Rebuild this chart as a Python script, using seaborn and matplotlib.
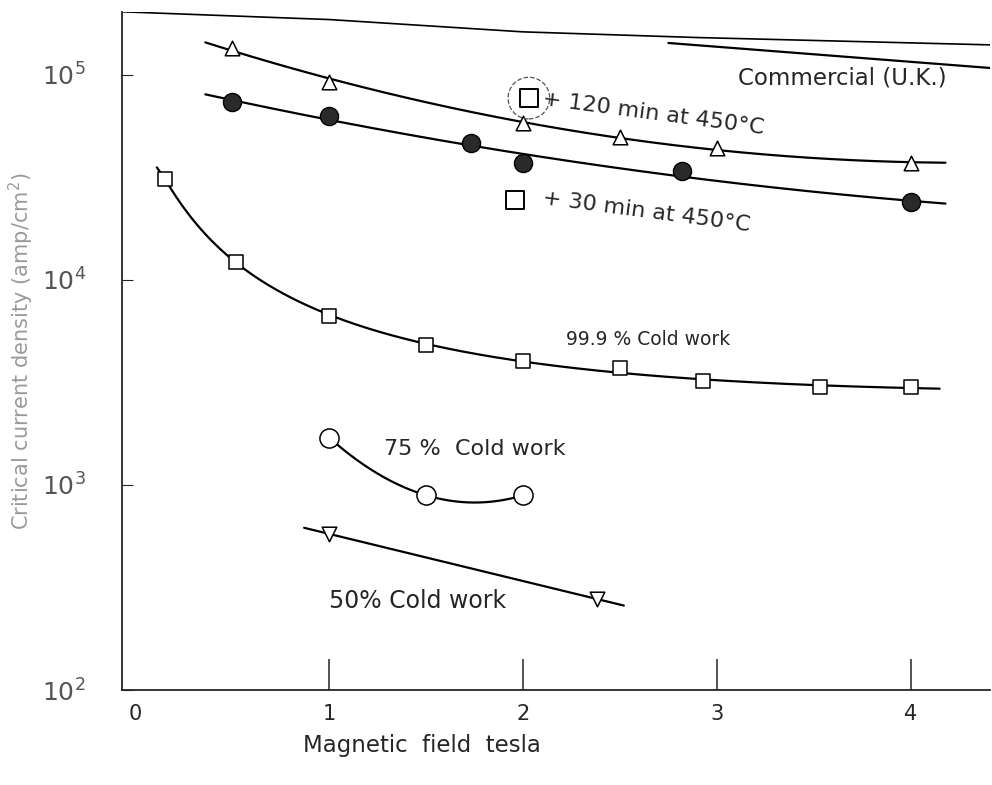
import numpy as np
import matplotlib
matplotlib.use("Agg")
import matplotlib.pyplot as plt
import seaborn as sns

# +120 min at 450C (open triangles)
b120_x = [0.5, 1.0, 2.0, 2.5, 3.0, 4.0]
b120_y = [1.35e5, 9.2e4, 5.8e4, 5.0e4, 4.4e4, 3.7e4]
# +30 min at 450C (filled circles)
b30_x = [0.5, 1.0, 1.73, 2.0, 2.82, 4.0]
b30_y = [7.4e4, 6.3e4, 4.65e4, 3.7e4, 3.4e4, 2.4e4]
# 99.9 % cold work (open squares)
cw999_x = [0.15, 0.52, 1.0, 1.5, 2.0, 2.5, 2.93, 3.53, 4.0]
cw999_y = [3.1e4, 1.22e4, 6.7e3, 4.8e3, 4.0e3, 3.7e3, 3.2e3, 3.0e3, 3.0e3]
# 75 % cold work (open circles)
cw75_x = [1.0, 1.5, 2.0]
cw75_y = [1.7e3, 890, 890]
# 50 % cold work (open inverted triangles)
cw50_x = [1.0, 2.38]
cw50_y = [577, 278]
# Commercial (U.K.) lines
comm_x = [2.75, 4.41]
comm_y = [1.43e5, 1.08e5]
top_x = [-0.07, 1.0, 2.0, 2.9, 4.41]
top_y = [2.03e5, 1.86e5, 1.62e5, 1.52e5, 1.40e5]

sns.set_style("ticks")
plt.rcParams["font.family"] = ["DejaVu Sans"]

fig = plt.figure(figsize=(9.92, 7.85), dpi=100)
ax = fig.add_axes([0.123, 0.121, 0.875, 0.864])


def trend(xs, ys, deg, x0, x1, logx=False):
    # smooth curve through the points in log-y space
    xs = np.asarray(xs, float)
    u = np.log10(xs) if logx else xs
    p = np.polyfit(u, np.log10(ys), deg)
    xx = np.linspace(x0, x1, 200)
    uu = np.log10(xx) if logx else xx
    return xx, 10 ** np.polyval(p, uu)


curves = [
    (b120_x, b120_y, 2, 0.36, 4.18, False),
    (b30_x, b30_y, 2, 0.36, 4.18, False),
    (cw999_x, cw999_y, 3, 0.11, 4.15, True),
    (cw75_x, cw75_y, 2, 1.0, 2.0, False),
    (cw50_x, cw50_y, 1, 0.87, 2.52, False),
]
for xs, ys, deg, a, b, lg in curves:
    xx, yy = trend(xs, ys, deg, a, b, lg)
    sns.lineplot(x=xx, y=yy, ax=ax, color="black", lw=1.6)

sns.lineplot(x=comm_x, y=comm_y, ax=ax, color="black", lw=1.6)
sns.lineplot(x=top_x, y=top_y, ax=ax, color="black", lw=1.2)

sns.scatterplot(x=b120_x, y=b120_y, ax=ax, marker="^", s=110,
                facecolor="white", edgecolor="black", linewidth=1.1, zorder=3)
sns.scatterplot(x=b30_x, y=b30_y, ax=ax, marker="o", s=170,
                color="#2a2a2a", edgecolor="black", linewidth=1.0, zorder=3)
sns.scatterplot(x=cw999_x, y=cw999_y, ax=ax, marker="s", s=110,
                facecolor="white", edgecolor="black", linewidth=1.1, zorder=3)
sns.scatterplot(x=cw75_x, y=cw75_y, ax=ax, marker="o", s=190,
                facecolor="white", edgecolor="black", linewidth=1.1, zorder=3)
sns.scatterplot(x=cw50_x, y=cw50_y, ax=ax, marker="v", s=110,
                facecolor="white", edgecolor="black", linewidth=1.1, zorder=3)

# annotation square symbols
ax.scatter([2.03], [7.7e4], marker="s", s=170, facecolor="white",
           edgecolor="black", linewidth=1.4, zorder=3)
ax.scatter([2.03], [7.7e4], marker="o", s=900, facecolor="none",
           edgecolor="#555555", linewidth=0.9, linestyle="--", zorder=3)
ax.scatter([1.96], [2.46e4], marker="s", s=150, facecolor="white",
           edgecolor="black", linewidth=1.4, zorder=3)

ax.set_yscale("log")
ax.set_xlim(-0.07, 4.41)
ax.set_ylim(100, 2.03e5)
ax.set_xticks([0, 1, 2, 3, 4])
ax.set_xticklabels(["0", "1", "2", "3", "4"])
ax.set_yticks([1e2, 1e3, 1e4, 1e5])
ax.set_yticklabels([r"$10^2$", r"$10^3$", r"$10^4$", r"$10^5$"])
ax.minorticks_off()
ax.tick_params(axis="x", direction="in", length=22, width=1.1, pad=10,
               labelsize=15)
ax.tick_params(axis="y", direction="in", length=8, width=0.8, pad=26,
               labelsize=18, labelcolor="#555555")
ax.xaxis.get_major_ticks()[0].tick1line.set_visible(False)
sns.despine(ax=ax)
ax.spines["left"].set_linewidth(1.3)
ax.spines["bottom"].set_linewidth(1.3)

ax.set_xlabel("Magnetic  field  tesla", fontsize=16.5)
ax.xaxis.set_label_coords(0.345, -0.065)
ax.set_ylabel("Critical current density (amp/cm$^2$)", fontsize=15,
              color="#9a9a9a", labelpad=4)

ax.text(3.11, 9.0e4, "Commercial (U.K.)", fontsize=16.5)
ax.text(2.1, 7.6e4, "+ 120 min at 450°C", fontsize=16, rotation=-7.5,
        va="center", rotation_mode="anchor")
ax.text(2.1, 2.5e4, "+ 30 min at 450°C", fontsize=16, rotation=-7.5,
        va="center", rotation_mode="anchor")
ax.text(2.22, 4.8e3, "99.9 % Cold work", fontsize=13.5)
ax.text(1.28, 1.4e3, "75 %  Cold work", fontsize=16)
ax.text(1.0, 250, "50% Cold work", fontsize=17)

fig.savefig("out.png", dpi=100)
